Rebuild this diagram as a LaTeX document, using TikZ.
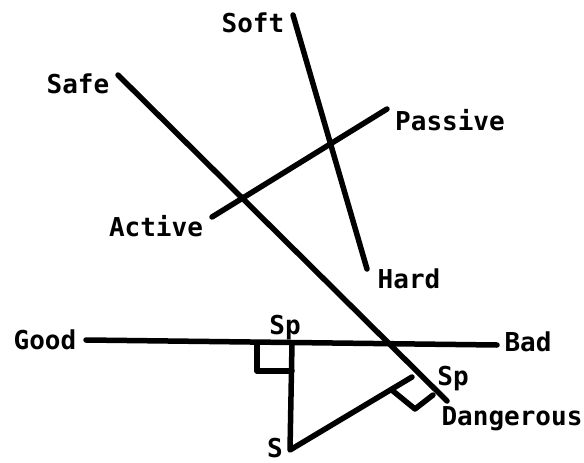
\documentclass[tikz,border=0pt]{standalone}
\usepackage{fontspec}
\newfontfamily\labfont{DejaVu Sans Mono}[BoldFont={DejaVu Sans Mono Bold}]
\begin{document}
\begin{tikzpicture}[x=1pt,y=-1pt,
  axis/.style={line width=5.5pt,line cap=round,line join=round},
  lab/.style={anchor=base,inner sep=0pt,font=\labfont\bfseries\fontsize{26}{26}\selectfont}]
\useasboundingbox (0,0) rectangle (584,463);
% endpoints
\coordinate (soft) at (293,15);
\coordinate (hard) at (367,269);
\coordinate (safe) at (118,75);
\coordinate (dang) at (447,401);
\coordinate (act) at (212,217);
\coordinate (pas) at (387,109);
\coordinate (good) at (86,340);
\coordinate (bad) at (497,345);
\coordinate (s) at (290,450);
\coordinate (sp1) at (292,343);
\coordinate (sp2) at (412,377);
\coordinate (m1a) at (257,343);
\coordinate (m1b) at (257,371);
\coordinate (m1c) at (292,371);
\coordinate (m2a) at (393,391);
\coordinate (m2b) at (415,409);
\coordinate (m2c) at (433,395);
% lines
\draw[axis] (soft) -- (hard);
\draw[axis] (safe) -- (dang);
\draw[axis] (act) -- (pas);
\draw[axis] (good) -- (bad);
\draw[axis] (sp1) -- (s) -- (sp2);
\draw[axis] (m1a) -- (m1b) -- (m1c);
\draw[axis] (m2a) -- (m2b) -- (m2c);
% labels
\node[lab] (lsoft) at (253,32) {Soft};
\node[lab] (lsafe) at (78,93) {Safe};
\node[lab] (lpas) at (450,130) {Passive};
\node[lab] (lact) at (156,236) {Active};
\node[lab] (lhard) at (409,288) {Hard};
\node[lab] (lgood) at (45,349) {Good};
\node[lab] (lbad) at (528,351) {Bad};
\node[lab] (lsp1) at (285,334) {Sp};
\node[lab] (lsp2) at (453,385) {Sp};
\node[lab] (ldang) at (512,425) {Dangerous};
\node[lab] (ls) at (275,457) {S};
\end{tikzpicture}
\end{document}
